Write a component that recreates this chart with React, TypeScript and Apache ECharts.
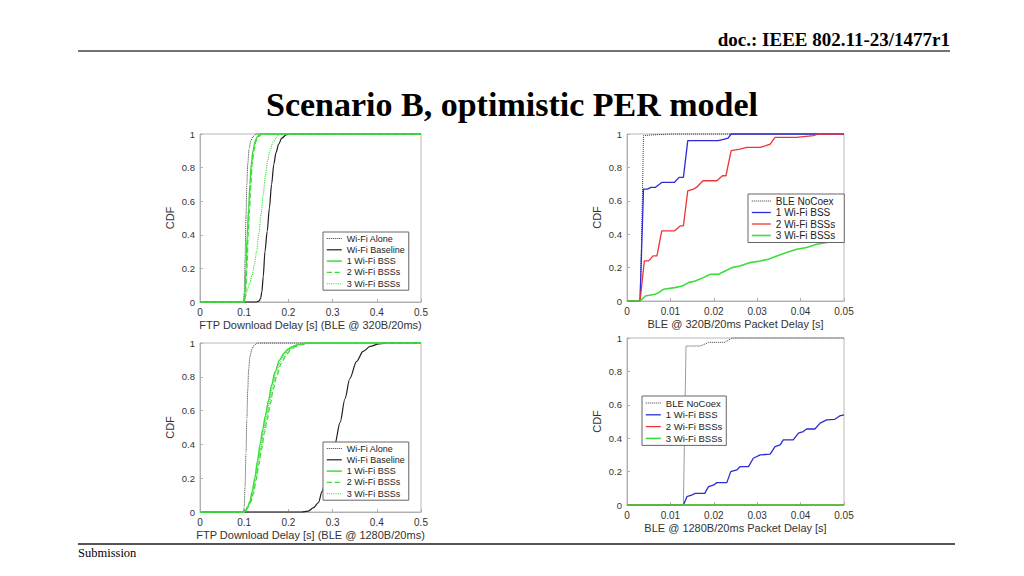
import React, { useEffect, useRef } from "react";
import * as echarts from "echarts";

// ---------- data ----------
const ftpTicksX = [0, 0.1, 0.2, 0.3, 0.4, 0.5];
const bleTicksX = [0, 0.01, 0.02, 0.03, 0.04, 0.05];

// Top-left: FTP download delay, BLE @ 320B/20ms
const tlAlone = [[0,0],[0.098,0],[0.1,0.05],[0.102,0.25],[0.104,0.5],[0.106,0.7],[0.108,0.82],[0.111,0.91],[0.115,0.96],[0.12,0.985],[0.128,1],[0.5,1]];
const tlBase = [[0,0],[0.128,0],[0.133,0.005],[0.137,0.02],[0.14,0.06],[0.143,0.15],[0.147,0.3],[0.152,0.42],[0.157,0.56],[0.162,0.7],[0.167,0.82],[0.172,0.89],[0.178,0.94],[0.185,0.975],[0.195,0.995],[0.2,1],[0.5,1]];
const tlB1 = [[0,0],[0.1,0],[0.102,0.05],[0.104,0.2],[0.107,0.4],[0.11,0.55],[0.113,0.7],[0.116,0.82],[0.12,0.9],[0.125,0.96],[0.13,0.985],[0.136,1],[0.5,1]];
const tlB2 = [[0,0],[0.1,0],[0.103,0.05],[0.106,0.2],[0.109,0.4],[0.112,0.55],[0.115,0.7],[0.118,0.82],[0.122,0.9],[0.127,0.96],[0.133,0.985],[0.14,1],[0.5,1]];
const tlB3 = [[0,0],[0.1,0],[0.103,0.03],[0.107,0.07],[0.112,0.11],[0.118,0.16],[0.123,0.22],[0.128,0.3],[0.133,0.4],[0.138,0.52],[0.143,0.64],[0.148,0.75],[0.153,0.84],[0.158,0.9],[0.165,0.95],[0.173,0.98],[0.18,1],[0.5,1]];

// Bottom-left: FTP download delay, BLE @ 1280B/20ms
const blAlone = [[0,0],[0.098,0],[0.1,0.03],[0.102,0.15],[0.104,0.35],[0.106,0.55],[0.108,0.72],[0.11,0.84],[0.113,0.92],[0.117,0.96],[0.122,0.985],[0.13,1],[0.5,1]];
const blBase = [[0,0],[0.23,0],[0.245,0.005],[0.256,0.024],[0.268,0.055],[0.276,0.12],[0.284,0.19],[0.294,0.28],[0.305,0.4],[0.317,0.53],[0.328,0.67],[0.339,0.79],[0.354,0.89],[0.369,0.95],[0.385,0.98],[0.405,0.995],[0.43,1],[0.5,1]];
const blB1 = [[0,0],[0.1,0],[0.103,0.01],[0.108,0.03],[0.113,0.065],[0.118,0.12],[0.124,0.2],[0.13,0.3],[0.136,0.4],[0.142,0.49],[0.148,0.57],[0.155,0.66],[0.162,0.75],[0.17,0.83],[0.18,0.9],[0.19,0.94],[0.2,0.965],[0.21,0.98],[0.225,0.993],[0.245,1],[0.5,1]];
const blB2 = [[0,0],[0.1,0],[0.104,0.01],[0.109,0.03],[0.115,0.06],[0.121,0.11],[0.127,0.19],[0.133,0.28],[0.139,0.37],[0.146,0.47],[0.152,0.55],[0.159,0.64],[0.166,0.73],[0.174,0.81],[0.184,0.88],[0.195,0.93],[0.205,0.96],[0.216,0.978],[0.23,0.99],[0.25,1],[0.5,1]];
const blB3 = [[0,0],[0.1,0],[0.103,0.01],[0.108,0.03],[0.114,0.063],[0.12,0.115],[0.126,0.195],[0.132,0.29],[0.138,0.385],[0.144,0.48],[0.15,0.56],[0.157,0.65],[0.164,0.74],[0.172,0.82],[0.182,0.89],[0.192,0.935],[0.202,0.962],[0.213,0.98],[0.228,0.992],[0.248,1],[0.5,1]];

// Top-right: BLE @ 320B/20ms packet delay
const trNoCoex = [[0,0],[0.003,0],[0.0033,0.3],[0.0036,0.7],[0.0038,0.99],[0.006,0.995],[0.01,1],[0.05,1]];
const trB1 = [[0,0],[0.003,0],[0.0038,0.67],[0.0047,0.67],[0.0055,0.68],[0.0065,0.68],[0.008,0.71],[0.0109,0.71],[0.012,0.74],[0.013,0.74],[0.014,0.96],[0.021,0.96],[0.0225,0.97],[0.0233,0.975],[0.024,1],[0.05,1]];
const trB2 = [[0,0],[0.003,0],[0.004,0.24],[0.005,0.24],[0.006,0.27],[0.0069,0.27],[0.008,0.42],[0.011,0.42],[0.0123,0.45],[0.013,0.45],[0.014,0.66],[0.0153,0.67],[0.016,0.68],[0.0175,0.72],[0.0207,0.72],[0.022,0.75],[0.0228,0.75],[0.024,0.9],[0.026,0.91],[0.0276,0.92],[0.0307,0.92],[0.032,0.93],[0.033,0.94],[0.0341,0.98],[0.039,0.98],[0.043,0.99],[0.044,1],[0.05,1]];
const trB3 = [[0,0],[0.003,0],[0.0042,0.03],[0.0065,0.04],[0.0073,0.05],[0.0084,0.07],[0.011,0.08],[0.0127,0.09],[0.0142,0.11],[0.0157,0.12],[0.0176,0.14],[0.0192,0.16],[0.0211,0.16],[0.0226,0.18],[0.0242,0.2],[0.026,0.21],[0.0284,0.23],[0.0307,0.24],[0.0326,0.25],[0.0345,0.27],[0.0368,0.29],[0.0391,0.31],[0.0414,0.32],[0.0437,0.34],[0.046,0.35],[0.0483,0.37],[0.05,0.375]];

// Bottom-right: BLE @ 1280B/20ms packet delay
const brNoCoex = [[0,0],[0.013,0],[0.0133,0.5],[0.0136,0.952],[0.0169,0.952],[0.0188,0.974],[0.0225,0.974],[0.0242,1],[0.05,1]];
const brB1 = [[0,0],[0.013,0],[0.0138,0.05],[0.015,0.06],[0.0157,0.07],[0.0179,0.07],[0.0188,0.11],[0.02,0.12],[0.0207,0.134],[0.023,0.134],[0.0239,0.2],[0.0253,0.21],[0.0261,0.23],[0.028,0.23],[0.0291,0.28],[0.0307,0.3],[0.033,0.305],[0.0341,0.35],[0.0353,0.36],[0.036,0.39],[0.0383,0.39],[0.0395,0.43],[0.0406,0.44],[0.0414,0.455],[0.0433,0.455],[0.0445,0.49],[0.046,0.51],[0.0479,0.513],[0.049,0.533],[0.05,0.54]];
const brB2 = [[0,0],[0.05,0]];
const brB3 = [[0,0],[0.05,0]];

const ftpNames = ["Wi-Fi Alone", "Wi-Fi Baseline", "1 Wi-Fi BSS", "2 Wi-Fi BSSs", "3 Wi-Fi BSSs"];
const bleNames = ["BLE NoCoex", "1 Wi-Fi BSS", "2 Wi-Fi BSSs", "3 Wi-Fi BSSs"];
const xNames = [
  "FTP Download Delay [s] (BLE @ 320B/20ms)",
  "BLE @ 320B/20ms Packet Delay [s]",
  "FTP Download Delay [s] (BLE @ 1280B/20ms)",
  "BLE @ 1280B/20ms Packet Delay [s]",
];

// ---------- styles ----------
const SANS = "'Liberation Sans', Arial, Helvetica, sans-serif";
const SERIF = "'Liberation Serif', 'Times New Roman', serif";
const GREEN = "#3ade3a";
const BLUE = "#2c2cd4";
const RED = "#ec3535";
const DOT_BLACK = "#3a3a3a";
const BLACK = "#1e1e1e";

const ftpStyles = [
  { color: DOT_BLACK, type: "dotted", width: 1 },
  { color: BLACK, type: "solid", width: 1.2 },
  { color: GREEN, type: "solid", width: 1.5 },
  { color: GREEN, type: "dashed", width: 1.3 },
  { color: GREEN, type: "dotted", width: 1.1 },
];
const bleStyles = [
  { color: DOT_BLACK, type: "dotted", width: 1 },
  { color: BLUE, type: "solid", width: 1.3 },
  { color: RED, type: "solid", width: 1.3 },
  { color: GREEN, type: "solid", width: 1.6 },
];

const grids = [
  { left: 200, top: 134, width: 221, height: 168 },
  { left: 627, top: 134, width: 217, height: 167 },
  { left: 200, top: 343, width: 221, height: 169 },
  { left: 627, top: 338, width: 217, height: 167 },
];

export default function App() {
  const ref = useRef<HTMLDivElement>(null);
  useEffect(() => {
    if (!ref.current) return;
    const chart = echarts.init(ref.current, null, { renderer: "svg" });

    const isFtp = [true, false, true, false];
    const seriesData = [
      [tlAlone, tlBase, tlB1, tlB2, tlB3],
      [trNoCoex, trB1, trB2, trB3],
      [blAlone, blBase, blB1, blB2, blB3],
      [brNoCoex, brB1, brB2, brB3],
    ];

    const xAxis = grids.map((_, i) => {
      const ticks = isFtp[i] ? ftpTicksX : bleTicksX;
      return {
        gridIndex: i,
        type: "value",
        min: ticks[0],
        max: ticks[ticks.length - 1],
        interval: ticks[1] - ticks[0],
        name: xNames[i],
        nameLocation: "middle",
        nameGap: 17,
        nameTextStyle: { fontSize: 11, color: "#333", fontFamily: SANS },
        axisLine: { show: true, lineStyle: { color: "#b0b0b0", width: 1 } },
        axisTick: { show: true, inside: true, length: 3, lineStyle: { color: "#b0b0b0" } },
        axisLabel: { fontSize: 10, color: "#333", margin: 5, fontFamily: SANS, showMinLabel: true, showMaxLabel: true },
        splitLine: { show: false },
      };
    });
    const yAxis = grids.map((_, i) => ({
      gridIndex: i,
      type: "value",
      min: 0,
      max: 1,
      interval: 0.2,
      name: "CDF",
      nameLocation: "middle",
      nameGap: 25,
      nameMoveOverlap: false,
      nameTextStyle: { fontSize: 11, color: "#333", fontFamily: SANS },
      axisLine: { show: true, lineStyle: { color: "#b0b0b0", width: 1 } },
      axisTick: { show: true, inside: true, length: 3, lineStyle: { color: "#b0b0b0" } },
      axisLabel: { fontSize: 9.5, color: "#333", margin: 5, fontFamily: SANS },
      splitLine: { show: false },
    }));

    const series: any[] = [];
    seriesData.forEach((group, gi) => {
      const names = isFtp[gi] ? ftpNames : bleNames;
      const styles = isFtp[gi] ? ftpStyles : bleStyles;
      group.forEach((d, si) => {
        series.push({
          type: "line",
          name: names[si],
          xAxisIndex: gi,
          yAxisIndex: gi,
          data: d,
          symbol: "none",
          showSymbol: false,
          clip: false,
          smooth: isFtp[gi] ? 0.3 : false,
          smoothMonotone: "x",
          lineStyle: { ...styles[si] },
          itemStyle: { color: styles[si].color },
          emphasis: { disabled: true },
        });
      });
    });

    const mkLegend = (left: number, top: number, names: string[], styles: any[], fontSize: number, itemWidth: number, itemGap: number, padRight: number) => ({
      orient: "vertical",
      left,
      top,
      padding: [2, padRight, 2, 3],
      itemGap,
      itemWidth,
      itemHeight: 9,
      backgroundColor: "#fff",
      borderColor: "#666",
      borderWidth: 1,
      selectedMode: false,
      textStyle: { fontSize, color: "#222", fontFamily: SANS },
      data: names.map((n, k) => ({
        name: n,
        itemStyle: { color: styles[k].color, opacity: 0 },
        lineStyle: { color: styles[k].color, type: styles[k].type, width: styles[k].width, opacity: 1 },
      })),
    });

    const option: any = {
      animation: false,
      backgroundColor: "#fff",
      grid: grids.map((g) => ({ ...g, show: true, borderColor: "#b8b8b8", borderWidth: 1, backgroundColor: "transparent" })),
      xAxis,
      yAxis,
      series,
      legend: [
        mkLegend(323, 232, ftpNames, ftpStyles, 9, 15, 2.3, 4),
        mkLegend(748, 194, bleNames, bleStyles, 10, 19, 1.5, 9),
        mkLegend(323, 442, ftpNames, ftpStyles, 9, 15, 2.3, 4),
        mkLegend(642, 396, bleNames, bleStyles, 9.5, 15, 1.8, 4),
      ],
      graphic: [
        {
          type: "text",
          x: 950,
          y: 49,
          style: { text: "doc.: IEEE 802.11-23/1477r1", align: "right", verticalAlign: "bottom", fontSize: 19, fontWeight: "bold", fontFamily: SERIF, fill: "#000" },
        },
        { type: "line", shape: { x1: 78, y1: 51, x2: 950, y2: 51 }, style: { stroke: "#444", lineWidth: 1.5 } },
        {
          type: "text",
          x: 512,
          y: 104,
          style: { text: "Scenario B, optimistic PER model", align: "center", verticalAlign: "middle", fontSize: 34, fontWeight: "bold", fontFamily: SERIF, fill: "#000" },
        },
        { type: "line", shape: { x1: 78, y1: 544, x2: 955, y2: 544 }, style: { stroke: "#555", lineWidth: 2 } },
        {
          type: "text",
          x: 78,
          y: 553,
          style: { text: "Submission", align: "left", verticalAlign: "middle", fontSize: 12.5, fontFamily: SERIF, fill: "#000" },
        },
      ],
    };
    chart.setOption(option);
    return () => chart.dispose();
  }, []);
  return (
    <div
      ref={ref}
      style={{ position: "fixed", left: 0, top: 0, width: 1024, height: 576, background: "#fff" }}
    />
  );
}
